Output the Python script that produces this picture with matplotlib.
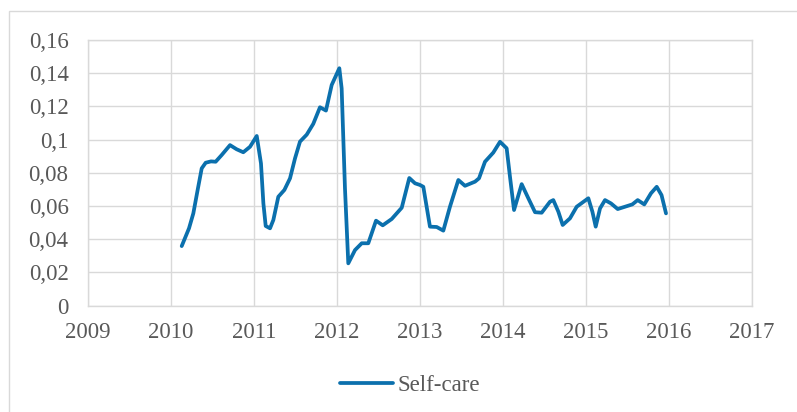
import matplotlib.pyplot as plt
from matplotlib.patches import Rectangle
from matplotlib.ticker import FuncFormatter

# данные (год, значение)
years = [2010.129, 2010.217, 2010.269, 2010.321, 2010.370, 2010.418, 2010.482, 2010.538,
         2010.610, 2010.711, 2010.791, 2010.871, 2010.952, 2011.033, 2011.084, 2011.113,
         2011.141, 2011.193, 2011.233, 2011.293, 2011.366, 2011.434, 2011.494, 2011.554,
         2011.635, 2011.714, 2011.795, 2011.867, 2011.936, 2012.028, 2012.056, 2012.096,
         2012.136, 2012.217, 2012.298, 2012.377, 2012.470, 2012.551, 2012.659, 2012.780,
         2012.871, 2012.940, 2013.000, 2013.040, 2013.120, 2013.201, 2013.281, 2013.361,
         2013.462, 2013.542, 2013.663, 2013.711, 2013.783, 2013.883, 2013.964, 2014.044,
         2014.084, 2014.133, 2014.225, 2014.305, 2014.386, 2014.466, 2014.566, 2014.606,
         2014.667, 2014.719, 2014.807, 2014.888, 2015.028, 2015.077, 2015.117, 2015.169,
         2015.229, 2015.301, 2015.382, 2015.470, 2015.558, 2015.623, 2015.702, 2015.783,
         2015.852, 2015.910, 2015.964]
self_care = [0.0359, 0.0466, 0.0556, 0.0697, 0.0827, 0.0861, 0.0869, 0.0867,
             0.0907, 0.0967, 0.0942, 0.0924, 0.0957, 0.1022, 0.0857, 0.0616,
             0.0480, 0.0466, 0.0516, 0.0656, 0.0697, 0.0767, 0.0887, 0.0988,
             0.1030, 0.1095, 0.1195, 0.1175, 0.1329, 0.1430, 0.1309, 0.0707,
             0.0255, 0.0335, 0.0376, 0.0376, 0.0512, 0.0484, 0.0522, 0.0590,
             0.0769, 0.0737, 0.0727, 0.0716, 0.0476, 0.0474, 0.0452, 0.0596,
             0.0757, 0.0722, 0.0747, 0.0767, 0.0867, 0.0922, 0.0987, 0.0948,
             0.0777, 0.0576, 0.0732, 0.0647, 0.0563, 0.0560, 0.0626, 0.0636,
             0.0566, 0.0486, 0.0526, 0.0596, 0.0647, 0.0566, 0.0476, 0.0586,
             0.0636, 0.0616, 0.0582, 0.0596, 0.0610, 0.0636, 0.0610, 0.0677,
             0.0716, 0.0666, 0.0556]

x_ticks = list(range(2009, 2018))
y_ticks = [0, 0.02, 0.04, 0.06, 0.08, 0.1, 0.12, 0.14, 0.16]

plt.rcParams['font.family'] = ['Liberation Serif', 'DejaVu Serif']
grid_color = '#D9D9D9'
text_color = '#595959'
line_color = '#0B70AD'

fig = plt.figure(figsize=(7.97, 4.12), dpi=100)
ax = fig.add_axes([88 / 797, 1 - 305.7 / 412, (752 - 88) / 797, (305.7 - 40) / 412])

ax.plot(years, self_care, color=line_color, linewidth=2.7,
        solid_joinstyle='round', solid_capstyle='round', label='Self-care')

ax.set_xlim(2009, 2017)
ax.set_ylim(0, 0.16)
ax.set_xticks(x_ticks)
ax.set_yticks(y_ticks)
ax.yaxis.set_major_formatter(FuncFormatter(lambda v, p: f"{v:g}".replace('.', ',')))
ax.grid(True, color=grid_color, linewidth=1.0)
ax.set_axisbelow(True)
for s in ax.spines.values():
    s.set_color(grid_color)
    s.set_linewidth(1.0)
ax.tick_params(length=0, labelsize=16.5, labelcolor=text_color)
ax.tick_params(axis='y', pad=14)
ax.tick_params(axis='x', pad=12)

fig.legend(loc='center', bbox_to_anchor=(410 / 797, 1 - 385.7 / 412), frameon=False,
           fontsize=16.5, handlelength=2.3, handletextpad=0.2, labelcolor=text_color)

# рамка вокруг области диаграммы
fig.patches.append(Rectangle((9 / 797, -0.1), 2, 1 - 11 / 412 + 0.1, transform=fig.transFigure,
                             fill=False, edgecolor=grid_color, linewidth=1.0))

fig.savefig('out.png', dpi=100)
